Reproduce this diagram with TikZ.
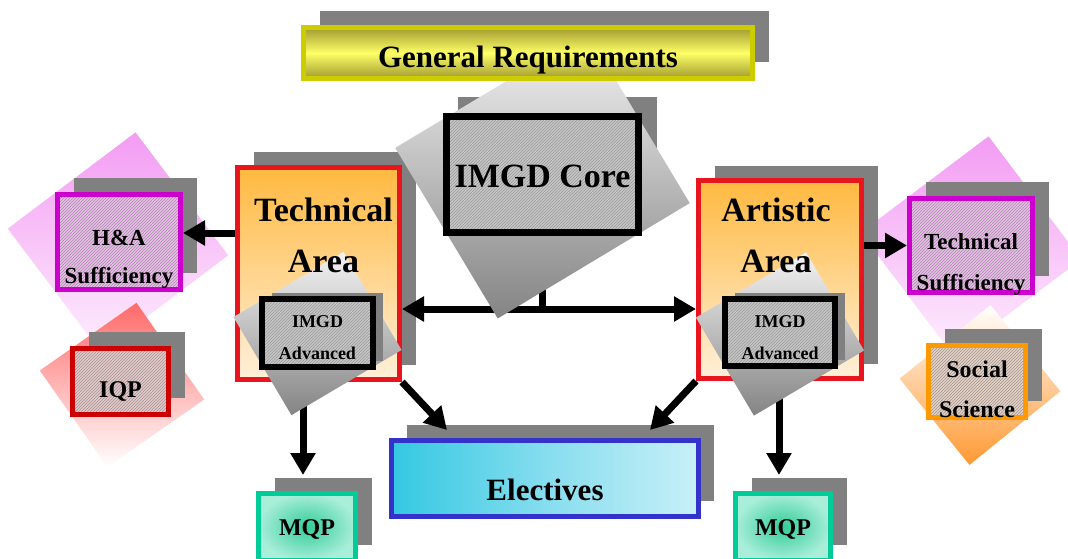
\documentclass[tikz,border=0pt]{standalone}
\usepackage{fontspec}
\setmainfont{Liberation Serif}
\usetikzlibrary{positioning,shapes,arrows.meta,shadows,patterns,calc}
\pgfdeclarelayer{bg}
\pgfsetlayers{bg,main}

\definecolor{shadowgray}{HTML}{808080}
\definecolor{grborder}{HTML}{CCCC00}
\definecolor{grdark}{HTML}{A09A30}
\definecolor{grlight}{HTML}{FFFF66}
\definecolor{areared}{HTML}{E8141E}
\definecolor{areatop}{HTML}{FFB940}
\definecolor{areabot}{HTML}{FFF0DA}
\definecolor{hatchgray}{HTML}{C6C6C6}
\definecolor{tiltlight}{HTML}{F4F4F4}
\definecolor{tiltdark}{HTML}{848484}
\definecolor{sufborder}{HTML}{CC00CC}
\definecolor{sufpink}{HTML}{F39CF3}
\definecolor{suflight}{HTML}{FDEEFD}
\definecolor{suffill}{HTML}{F0B8F0}
\definecolor{iqpborder}{HTML}{CC0000}
\definecolor{iqpred}{HTML}{FF6A6A}
\definecolor{iqpfill}{HTML}{E8C6C6}
\definecolor{ssborder}{HTML}{FF9900}
\definecolor{ssorange}{HTML}{FF9933}
\definecolor{ssfill}{HTML}{E8D0C0}
\definecolor{elecborder}{HTML}{3333CC}
\definecolor{elecleft}{HTML}{33C8E2}
\definecolor{elecmid}{HTML}{86DDEE}
\definecolor{elecright}{HTML}{C8F0F8}
\definecolor{mqpborder}{HTML}{00CC99}
\definecolor{mqpin}{HTML}{33CC99}
\definecolor{mqpout}{HTML}{A8EED8}

\begin{document}
\begin{tikzpicture}[x=1pt,y=-1pt,
box/.style={rectangle, draw, line width=5pt, inner sep=0pt},
boxshadow/.style 2 args={drop shadow={shadow xshift=#1, shadow yshift=#2, fill=shadowgray, opacity=1}},
hatch/.style={preaction={fill=#1}, pattern=north east lines, pattern color=black!40},
tilt/.style={rectangle, inner sep=0pt},
areatext/.style={font=\fontsize{34pt}{51pt}\selectfont\bfseries, align=center, anchor=base, inner sep=0pt},
link/.style={line width=7pt},
arrow/.style={line width=7pt, -{Triangle[length=22pt,width=24pt]}},
twoway/.style={line width=7pt, {Triangle[length=22pt,width=24pt]}-{Triangle[length=22pt,width=24pt]}},
]
\useasboundingbox (0,0) rectangle (1068,559);

\begin{pgfonlayer}{bg}
% tilted backdrops
\node[tilt, rotate=37, minimum width=160pt, minimum height=154pt, top color=sufpink, bottom color=suflight] (hatilt) at (118,242) {};
\node[tilt, rotate=35, minimum width=118pt, minimum height=118pt, top color=iqpred, bottom color=white] (iqptilt) at (122,385) {};
\node[tilt, rotate=37, minimum width=160pt, minimum height=154pt, top color=sufpink, bottom color=suflight] (tstilt) at (971,246) {};
\node[tilt, rotate=39, minimum width=117pt, minimum height=111pt, top color=white, bottom color=ssorange] (sstilt) at (980,385) {};

% areas
\node[box, boxshadow={16pt}{15pt}, draw=areared, minimum width=162pt, minimum height=212pt, top color=areatop, bottom color=areabot] (tech) at (318.5,273.5) {};
\node[box, boxshadow={16pt}{15pt}, draw=areared, minimum width=163pt, minimum height=198pt, top color=areatop, bottom color=areabot] (art) at (780,279.5) {};

% side boxes
\node[box, boxshadow={16pt}{17pt}, draw=sufborder, minimum width=123pt, minimum height=95pt, hatch=suffill, font=\fontsize{23pt}{38pt}\selectfont\bfseries, align=center, text height=82pt, text depth=0pt] (ha) at (119,242) {H\&A\\Sufficiency};
\node[box, boxshadow={16pt}{17pt}, draw=iqpborder, minimum width=96pt, minimum height=66pt, hatch=iqpfill, font=\fontsize{24pt}{30pt}\selectfont\bfseries, text height=31pt, text depth=0pt] (iqp) at (120.5,381.5) {IQP};
\node[box, boxshadow={16pt}{17pt}, draw=sufborder, minimum width=123pt, minimum height=94pt, hatch=suffill, font=\fontsize{23pt}{41pt}\selectfont\bfseries, align=center, text height=89pt, text depth=0pt] (ts) at (971,245.5) {Technical\\Sufficiency};
\node[box, boxshadow={16pt}{16pt}, draw=ssborder, minimum width=97pt, minimum height=67pt, hatch=ssfill, font=\fontsize{24pt}{40pt}\selectfont\bfseries, align=center, text height=72pt, text depth=0pt] (ss) at (977,381) {Social\\Science};

% bottom row
\node[box, boxshadow={15pt}{16pt}, draw=elecborder, minimum width=307pt, minimum height=76pt, left color=elecleft, right color=elecright, middle color=elecmid, font=\fontsize{31pt}{36pt}\selectfont\bfseries, text height=43pt, text depth=0pt] (elec) at (545,478.5) {Electives};
\node[box, boxshadow={16pt}{16pt}, draw=mqpborder, minimum width=97pt, minimum height=67pt, inner color=mqpin, outer color=mqpout, font=\fontsize{24pt}{30pt}\selectfont\bfseries, text height=16pt, text depth=0pt] (mqpl) at (307,527) {MQP};
\node[box, boxshadow={16pt}{16pt}, draw=mqpborder, minimum width=95pt, minimum height=67pt, inner color=mqpin, outer color=mqpout, font=\fontsize{24pt}{30pt}\selectfont\bfseries, text height=16pt, text depth=0pt] (mqpr) at (783,527) {MQP};
\end{pgfonlayer}

% core
\fill[shadowgray] (458,97) rectangle (657,220);
\node[tilt, rotate=31, minimum width=224pt, minimum height=199pt, top color=tiltlight, bottom color=tiltdark] (coretilt) at (542.5,175.5) {};
\node[box, draw=black, line width=7pt, minimum width=192pt, minimum height=116pt, hatch=hatchgray, font=\fontsize{34pt}{40pt}\selectfont\bfseries, text height=25pt, text depth=0pt] (core) at (542.5,174.5) {IMGD Core};

\node[box, boxshadow={16pt}{16pt}, draw=grborder, minimum width=449pt, minimum height=51pt, top color=grdark, bottom color=grdark, middle color=grlight, font=\fontsize{31pt}{36pt}\selectfont\bfseries, text height=30pt, text depth=0pt] (genreq) at (528,53) {General Requirements};

\begin{pgfonlayer}{bg}
\coordinate (split) at ($(core.south)+(0,73)$);
\draw[link] (core.south) -- (split);
\draw[twoway] (tech.east |- split) -- (art.west |- split);
\draw[arrow] ([yshift=9pt]ha.east -| tech.west) -- ([yshift=9pt]ha.east);
\draw[arrow] (art.east |- ts.west) -- (ts.west);
\draw[arrow] (tech.south east) -- ([xshift=58pt,yshift=8pt]elec.north west);
\draw[arrow] (art.south west) -- ([xshift=-51pt,yshift=8pt]elec.north east);
\draw[arrow] ([xshift=-4pt]tech.south -| mqpl.north) -- ([xshift=-4pt,yshift=16pt]mqpl.north);
\draw[arrow] ([xshift=-4pt]art.south -| mqpr.north) -- ([xshift=-4pt,yshift=16pt]mqpr.north);
\end{pgfonlayer}

% advanced
\node[tilt, rotate=30.6, minimum width=128pt, minimum height=114pt, top color=tiltlight, bottom color=tiltdark] (advltilt) at (317.5,333.5) {};
\node[box, boxshadow={10pt}{6pt}, draw=black, line width=6pt, minimum width=111pt, minimum height=68pt, hatch=hatchgray, font=\fontsize{18pt}{32pt}\selectfont\bfseries, align=center, text height=52pt, text depth=0pt] (advl) at (317.5,333) {IMGD\\Advanced};
\node[tilt, rotate=30.6, minimum width=128pt, minimum height=114pt, top color=tiltlight, bottom color=tiltdark] (advrtilt) at (780,334) {};
\node[box, boxshadow={10pt}{6pt}, draw=black, line width=6pt, minimum width=110pt, minimum height=67pt, hatch=hatchgray, font=\fontsize{18pt}{32pt}\selectfont\bfseries, align=center, text height=53pt, text depth=0pt] (advr) at (780,332.5) {IMGD\\Advanced};

% area titles
\node[areatext] (techlbl) at ($(tech.north)+(5,107)$) {Technical\\Area};
\node[areatext] (artlbl) at ($(art.north)+(-4,94)$) {Artistic\\Area};

\end{tikzpicture}
\end{document}
